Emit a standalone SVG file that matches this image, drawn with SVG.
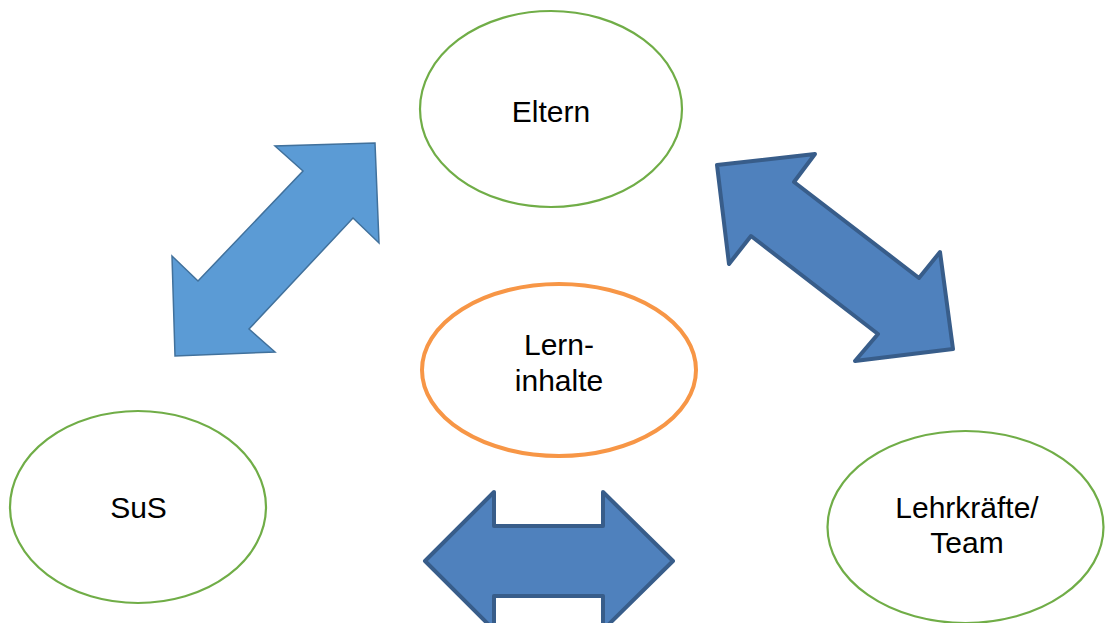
<svg xmlns="http://www.w3.org/2000/svg" width="1105" height="623" viewBox="0 0 1105 623">
<style>
.node{fill:#ffffff;stroke:#70ad47;stroke-width:2.2}
.center{fill:#ffffff;stroke:#f79646;stroke-width:4}
.lbl{font-family:"Liberation Sans",Arial,sans-serif;font-size:30px;fill:#000000;text-anchor:middle}
.arrL{fill:#5b9bd5;stroke:#41719c;stroke-width:1.5;stroke-linejoin:miter}
.arrD{fill:#4f81bd;stroke:#385d8a;stroke-width:4;stroke-linejoin:round}
</style>
<rect width="1105" height="623" fill="#ffffff"/>
<g id="connectors">
<polygon class="arrL" points="375,143 275,146 303,171 198,281 172,256 175,356 275,352 249,329 353,218 379,243"/>
<polygon class="arrD" points="717,165 815,154 794,182 919,278 940,252 953,349 855,361 878,334 751,236 729,264"/>
<polygon class="arrD" points="425,561 494,492 494,526 603,526 603,492 673,561 603,630 603,596 494,596 494,630"/>
</g>
<g id="eltern">
<ellipse class="node" cx="551" cy="109" rx="131" ry="98"/>
<text class="lbl" x="551" y="122">Eltern</text>
</g>
<g id="lerninhalte">
<ellipse class="center" cx="559" cy="370" rx="137" ry="86"/>
<text class="lbl" x="559" y="355">Lern-</text>
<text class="lbl" x="559" y="391">inhalte</text>
</g>
<g id="sus">
<ellipse class="node" cx="138" cy="507" rx="128" ry="96"/>
<text class="lbl" x="138.5" y="518">SuS</text>
</g>
<g id="lehrkraefte">
<ellipse class="node" cx="965.5" cy="527" rx="138" ry="96"/>
<text class="lbl" x="967" y="518">Lehrkräfte/</text>
<text class="lbl" x="967" y="553">Team</text>
</g>
</svg>
